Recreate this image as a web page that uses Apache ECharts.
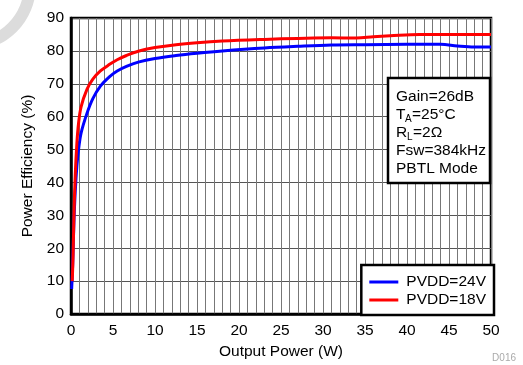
<!DOCTYPE html>
<html>
<head>
<meta charset="utf-8">
<script src="https://cdn.jsdelivr.net/npm/echarts@6/dist/echarts.min.js"></script>
<style>
  html, body { margin: 0; padding: 0; background: #fff; }
  #chart { width: 523px; height: 365px; }
</style>
</head>
<body>
<div id="chart"></div>
<script>
// output power (W) / efficiency (%)
let pvdd24 = [
  [0.08, 7.6], [0.2, 15], [0.35, 28], [0.5, 37], [0.7, 45], [0.9, 50], [1.2, 55],
  [1.9, 61], [2.6, 65.5], [3.5, 69.3], [4.6, 72.2], [5.5, 73.9], [6.6, 75.3], [8, 76.6],
  [10, 77.7], [12.5, 78.6], [15, 79.3], [18, 80], [23, 80.9], [27, 81.4], [31, 81.8],
  [35, 81.9], [40, 82], [44, 82], [46, 81.5], [48, 81.2], [50, 81.2]
]
let pvdd18 = [
  [0.15, 10], [0.25, 18], [0.35, 30], [0.5, 42], [0.7, 52], [0.9, 58], [1.2, 63],
  [1.9, 68.3], [2.6, 71.4], [3.5, 73.9], [4.6, 75.9], [5.5, 77.3], [6.6, 78.6], [8, 79.9],
  [10, 81], [12.5, 81.9], [15, 82.5], [18, 83], [23, 83.5], [27, 83.8], [31, 84],
  [34, 83.9], [36, 84.3], [38, 84.6], [41.5, 85], [45, 85], [50, 85]
]
let seriesNames = ['PVDD=24V', 'PVDD=18V']
let seriesColors = ['#0000ff', '#ff0000']

let font = 'Liberation Sans, Arial, sans-serif'
let fs = 15.5

function main() {
  var chart = echarts.init(document.getElementById('chart'))

  let option = {
    animation: false,
    backgroundColor: '#fff',
    grid: {
      left: 71, right: 32, top: 18, bottom: 50,
      show: true, borderColor: '#000', borderWidth: 2.5
    },
    xAxis: {
      type: 'value',
      min: 0, max: 50, interval: 5,
      name: 'Output Power (W)',
      nameLocation: 'middle',
      nameGap: 30,
      nameTextStyle: { fontFamily: font, fontSize: fs, color: '#000' },
      axisLine: { show: true, lineStyle: { color: '#000', width: 2.5 } },
      axisTick: { show: false },
      axisLabel: { fontFamily: font, fontSize: fs, color: '#000', margin: 9 },
      splitLine: { show: true, lineStyle: { color: '#777', width: 1 } },
      minorTick: { show: false, splitNumber: 5 },
      minorSplitLine: { show: true, lineStyle: { color: '#777', width: 1 } }
    },
    yAxis: {
      type: 'value',
      min: 0, max: 90, interval: 10,
      name: 'Power Efficiency (%)',
      nameLocation: 'middle',
      nameGap: 34,
      nameTextStyle: { fontFamily: font, fontSize: fs, color: '#000' },
      axisLine: { show: true, lineStyle: { color: '#000', width: 2.5 } },
      axisTick: { show: false },
      axisLabel: { fontFamily: font, fontSize: fs, color: '#000', margin: 7 },
      splitLine: { show: true, lineStyle: { color: '#555', width: 1 } }
    },
    legend: {
      data: seriesNames,
      orient: 'vertical',
      right: 29, bottom: 50,
      padding: [9, 8, 7, 8],
      itemGap: 2,
      itemWidth: 29,
      itemHeight: 3,
      icon: 'rect',
      backgroundColor: '#fff',
      borderColor: '#000',
      borderWidth: 2.5,
      borderRadius: 0,
      textStyle: { fontFamily: font, fontSize: fs, color: '#000', padding: [0, 0, 0, 3] }
    },
    graphic: [
      { type: 'ring', shape: { cx: -30, cy: -15, r: 66, r0: 54 }, style: { fill: '#dcdcdc' }, z: 0 },
      { type: 'rect', shape: { x: 388, y: 78, width: 102, height: 105 },
        style: { fill: '#fff', stroke: '#000', lineWidth: 2.5 }, z: 10 },
      { type: 'text', x: 396, y: 97, style: { text: 'Gain=26dB', font: fs + 'px ' + font, fill: '#000', verticalAlign: 'middle' }, z: 11 },
      { type: 'text', x: 396, y: 115, style: { text: 'T', font: fs + 'px ' + font, fill: '#000', verticalAlign: 'middle' }, z: 11 },
      { type: 'text', x: 405, y: 119, style: { text: 'A', font: '10px ' + font, fill: '#000', verticalAlign: 'middle' }, z: 11 },
      { type: 'text', x: 412, y: 115, style: { text: '=25°C', font: fs + 'px ' + font, fill: '#000', verticalAlign: 'middle' }, z: 11 },
      { type: 'text', x: 396, y: 133, style: { text: 'R', font: fs + 'px ' + font, fill: '#000', verticalAlign: 'middle' }, z: 11 },
      { type: 'text', x: 407, y: 137, style: { text: 'L', font: '10px ' + font, fill: '#000', verticalAlign: 'middle' }, z: 11 },
      { type: 'text', x: 413, y: 133, style: { text: '=2Ω', font: fs + 'px ' + font, fill: '#000', verticalAlign: 'middle' }, z: 11 },
      { type: 'text', x: 396, y: 151, style: { text: 'Fsw=384kHz', font: fs + 'px ' + font, fill: '#000', verticalAlign: 'middle' }, z: 11 },
      { type: 'text', x: 396, y: 169, style: { text: 'PBTL Mode', font: fs + 'px ' + font, fill: '#000', verticalAlign: 'middle' }, z: 11 },
      { type: 'text', right: 7, bottom: 2, style: { text: 'D016', font: '10px ' + font, fill: '#aaa' }, z: 11 }
    ],
    series: [
      {
        name: seriesNames[0], type: 'line', data: pvdd24, smooth: 0.35,
        showSymbol: false, color: seriesColors[0],
        lineStyle: { width: 3, color: seriesColors[0] }, z: 3
      },
      {
        name: seriesNames[1], type: 'line', data: pvdd18, smooth: 0.35,
        showSymbol: false, color: seriesColors[1],
        lineStyle: { width: 3, color: seriesColors[1] }, z: 4
      }
    ]
  }
  chart.setOption(option)
}

main()
</script>
</body>
</html>
